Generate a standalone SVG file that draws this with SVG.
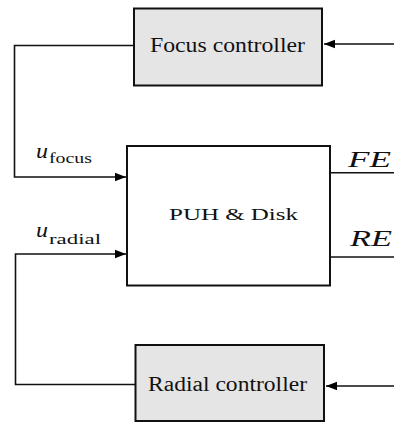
<svg xmlns="http://www.w3.org/2000/svg" width="394" height="423" viewBox="0 0 394 423">
  <defs>
    <marker id="arr" markerWidth="12" markerHeight="10" refX="11" refY="5" orient="auto" markerUnits="userSpaceOnUse">
      <path d="M0,0.8 L11,5 L0,9.2 Z" fill="#000"/>
    </marker>
    <style>
      .box { stroke: #111; stroke-width: 2; }
      .ctrl { fill: #e5e5e5; }
      .plant { fill: #fff; }
      .lbl { fill: #111; }
      .math { font-style: italic; fill: #111; }
      .wire { fill: none; stroke: #111; stroke-width: 1.6; }
    </style>
  </defs>
  <rect width="394" height="423" fill="#fff"/>

  <g id="connectors">
    <path class="wire" d="M134,45.5 H14.5 V177 H126" marker-end="url(#arr)"/>
    <path class="wire" d="M135,384.5 H15.5 V254 H126" marker-end="url(#arr)"/>
    <path class="wire" d="M394,44 H324" marker-end="url(#arr)"/>
    <path class="wire" d="M394,386 H326" marker-end="url(#arr)"/>
    <path class="wire" d="M330,172.8 H394"/>
    <path class="wire" d="M330,257 H394"/>
  </g>

  <g font-family="'Liberation Serif', 'DejaVu Serif', serif">
  <g id="focus-controller">
    <rect class="box ctrl" x="134" y="8.5" width="188" height="77"/>
    <text class="lbl" x="150" y="52" font-size="20" textLength="155" lengthAdjust="spacingAndGlyphs">Focus controller</text>
  </g>

  <g id="puh-disk">
    <rect class="box plant" x="127" y="146" width="203" height="139.5"/>
    <text class="lbl" x="169" y="220" font-size="17.5" textLength="129" lengthAdjust="spacingAndGlyphs">PUH &amp; Disk</text>
  </g>

  <g id="radial-controller">
    <rect class="box ctrl" x="135.5" y="345" width="188.5" height="76"/>
    <text class="lbl" x="148" y="391" font-size="20" textLength="159" lengthAdjust="spacingAndGlyphs">Radial controller</text>
  </g>

  <g id="labels">
    <text class="math" x="36" y="158" font-size="22" textLength="12" lengthAdjust="spacingAndGlyphs">u</text>
    <text class="lbl" x="49" y="163" font-size="15" textLength="43" lengthAdjust="spacingAndGlyphs">focus</text>
    <text class="math" x="36" y="237" font-size="22" textLength="12" lengthAdjust="spacingAndGlyphs">u</text>
    <text class="lbl" x="49" y="244" font-size="15" textLength="52" lengthAdjust="spacingAndGlyphs">radial</text>
    <text class="math" x="348" y="167" font-size="23" textLength="43" lengthAdjust="spacingAndGlyphs">FE</text>
    <text class="math" x="350" y="246" font-size="23" textLength="42" lengthAdjust="spacingAndGlyphs">RE</text>
  </g>
  </g>
</svg>
